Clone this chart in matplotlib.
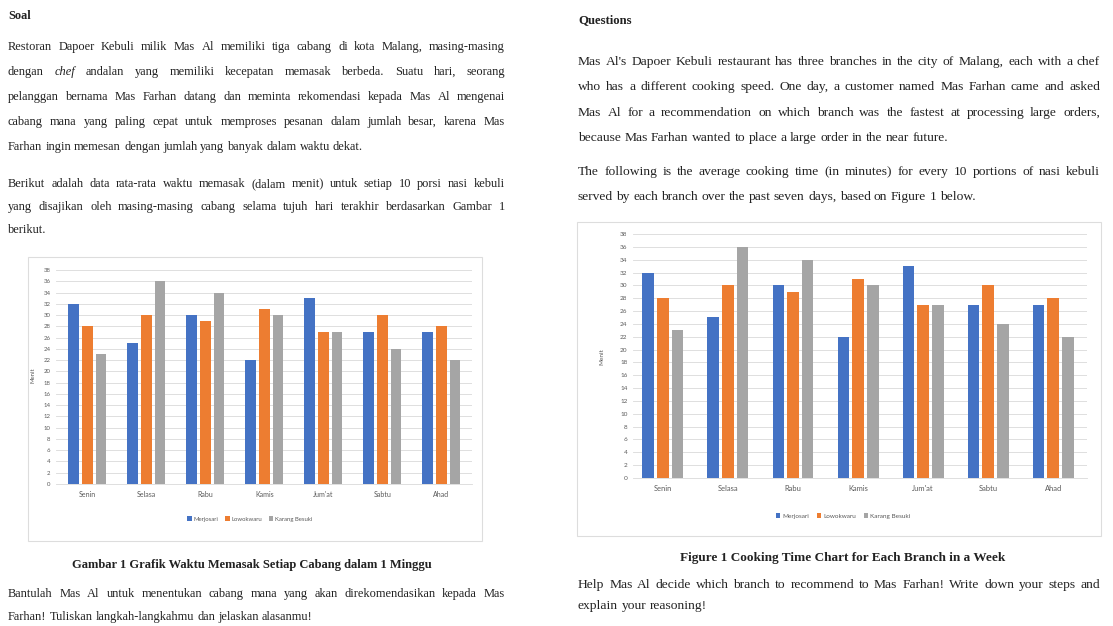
import numpy as np
import matplotlib
matplotlib.use("Agg")
import matplotlib.pyplot as plt
from matplotlib.patches import Rectangle
from matplotlib.transforms import IdentityTransform

W, H = 1113, 626

days = ["Senin", "Selasa", "Rabu", "Kamis", "Jum'at", "Sabtu", "Ahad"]
merjosari = [32, 25, 30, 22, 33, 27, 27]
lowokwaru = [28, 30, 29, 31, 27, 30, 28]
karang_besuki = [23, 36, 34, 30, 27, 24, 22]
branches = ["Merjosari", "Lowokwaru", "Karang Besuki"]
y_ticks = list(range(0, 39, 2))

soal_p1 = [
    "Restoran Dapoer Kebuli milik Mas Al memiliki tiga cabang di kota Malang, masing-masing",
    "dengan chef andalan yang memiliki kecepatan memasak berbeda. Suatu hari, seorang",
    "pelanggan bernama Mas Farhan datang dan meminta rekomendasi kepada Mas Al  mengenai",
    "cabang mana yang paling cepat untuk memproses pesanan dalam jumlah besar, karena Mas",
    "Farhan ingin memesan dengan jumlah yang banyak dalam waktu dekat.",
]
soal_p2 = [
    "Berikut adalah data rata-rata waktu memasak (dalam menit) untuk setiap 10 porsi nasi kebuli",
    "yang disajikan oleh masing-masing cabang selama tujuh hari terakhir berdasarkan Gambar 1",
    "berikut.",
]
soal_p3 = [
    "Bantulah Mas Al untuk menentukan cabang mana yang akan direkomendasikan kepada Mas",
    "Farhan! Tuliskan langkah-langkahmu dan jelaskan alasanmu!",
]
q_p1 = [
    "Mas Al's Dapoer Kebuli restaurant has three branches in the city of Malang, each with a chef",
    "who has a different cooking speed. One day, a customer named Mas Farhan came and asked",
    "Mas Al for a recommendation on which branch was the fastest at processing large orders,",
    "because Mas Farhan wanted to place a large order in the near future.",
]
q_p2 = [
    "The following is the average cooking time (in minutes) for every 10 portions of nasi kebuli",
    "served by each branch over the past seven days, based on Figure 1 below.",
]
q_p3 = [
    "Help Mas Al decide which branch to recommend to Mas Farhan! Write down your steps and",
    "explain your reasoning!",
]
cap_id = "Gambar 1 Grafik Waktu Memasak Setiap Cabang dalam 1 Minggu"
cap_en = "Figure 1 Cooking Time Chart for Each Branch in a Week"

SERIF = "Liberation Serif"
SANS = "Lato"
TXT = "#222222"
colors = ["#4472C4", "#ED7D31", "#A5A5A5"]

fig = plt.figure(figsize=(W / 100, H / 100), dpi=100)
fig.patch.set_facecolor("white")
renderer = fig.canvas.get_renderer()
ident = IdentityTransform()


def put_line(x0, x1, yc, line, size, justify=True, italic=()):
    base = H - yc - size * 0.33
    words = line.split()
    arts, widths = [], []
    for w in words:
        t = fig.text(0, base, w, fontsize=size, family=SERIF, color=TXT,
                     va="baseline", ha="left", transform=ident,
                     style="italic" if w in italic else "normal")
        arts.append(t)
        widths.append(t.get_window_extent(renderer).width)
    if justify and len(words) > 1:
        gap = (x1 - x0 - sum(widths)) / (len(words) - 1)
    else:
        gap = size * 100 / 72 * 0.25
    x = x0
    for t, wd in zip(arts, widths):
        t.set_x(x)
        x += wd + gap


def paragraph(x0, x1, ys, lines, size, italic=()):
    for i, (yc, ln) in enumerate(zip(ys, lines)):
        put_line(x0, x1, yc, ln, size, justify=(i < len(lines) - 1), italic=italic)


# left column (Indonesian)
fig.text(8, H - 16, "Soal", fontsize=8.8, family=SERIF, weight="bold",
         color=TXT, va="center", transform=ident)
paragraph(8, 505, [47, 72, 97, 122, 147], soal_p1, 8.9, italic=("chef",))
paragraph(8, 505, [184, 207, 230], soal_p2, 8.9)
fig.text(252, H - 565, cap_id, fontsize=9.0, family=SERIF, weight="bold",
         color=TXT, va="center", ha="center", transform=ident)
paragraph(8, 505, [594, 617], soal_p3, 8.9)

# right column (English)
fig.text(578, H - 20, "Questions", fontsize=9.2, family=SERIF, weight="bold",
         color=TXT, va="center", transform=ident)
paragraph(578, 1100, [62, 87, 113, 138], q_p1, 9.7)
paragraph(578, 1100, [172, 197], q_p2, 9.7)
fig.text(843, H - 558, cap_en, fontsize=9.5, family=SERIF, weight="bold",
         color=TXT, va="center", ha="center", transform=ident)
paragraph(578, 1100, [585, 606], q_p3, 9.7)


def chart(box, plot, xlim, bar_w, step, ylab_xy, legend_xy, tick_fs, lab_fs):
    bx0, by0, bx1, by1 = box
    fig.add_artist(Rectangle((bx0 / W, 1 - by1 / H), (bx1 - bx0) / W, (by1 - by0) / H,
                             transform=fig.transFigure, facecolor="white",
                             edgecolor="#DDDDDD", lw=0.8, zorder=0))
    px0, py0, px1, py1 = plot
    ax = fig.add_axes([px0 / W, 1 - py1 / H, (px1 - px0) / W, (py1 - py0) / H])
    x = np.arange(len(days))
    for k, (vals, c, name) in enumerate(zip([merjosari, lowokwaru, karang_besuki], colors, branches)):
        ax.bar(x + (k - 1) * step, vals, width=bar_w, color=c, label=name, zorder=3)
    ax.set_xlim(*xlim)
    ax.set_ylim(0, 38)
    ax.set_yticks(y_ticks)
    ax.set_xticks(x)
    ax.set_xticklabels(days, fontsize=lab_fs, family=SANS, color="#595959")
    ax.tick_params(axis="y", labelsize=tick_fs, labelcolor="#595959", length=0, pad=4)
    ax.tick_params(axis="x", length=0, pad=5)
    for lbl in ax.get_yticklabels():
        lbl.set_family(SANS)
    ax.grid(axis="y", color="#D9D9D9", lw=0.6, zorder=0)
    for s in ax.spines.values():
        s.set_visible(False)
    ax.spines["bottom"].set_visible(True)
    ax.spines["bottom"].set_color("#D9D9D9")
    ax.spines["bottom"].set_linewidth(0.6)
    fig.text(ylab_xy[0], H - ylab_xy[1], "Menit", rotation=90, fontsize=tick_fs,
             family=SANS, color="#595959", ha="center", va="center", transform=ident)
    ax.legend(loc="center", bbox_to_anchor=(legend_xy[0] / W, 1 - legend_xy[1] / H),
              bbox_transform=fig.transFigure, ncol=3, frameon=False,
              prop={"family": SANS, "size": tick_fs}, labelcolor="#595959",
              handlelength=0.7, handleheight=0.7, handletextpad=0.3, columnspacing=1.2)
    return ax


chart((28, 257, 482, 541), (56, 270, 472, 484), (-0.53, 6.52), 0.18, 0.23,
      (33, 375), (250, 519), 4.3, 5.0)
chart((577, 222, 1101, 536), (633, 234, 1087, 478), (-0.46, 6.52), 0.18, 0.225,
      (602, 357), (843, 516), 4.6, 5.4)

fig.savefig("out.png", dpi=100, facecolor="white")
